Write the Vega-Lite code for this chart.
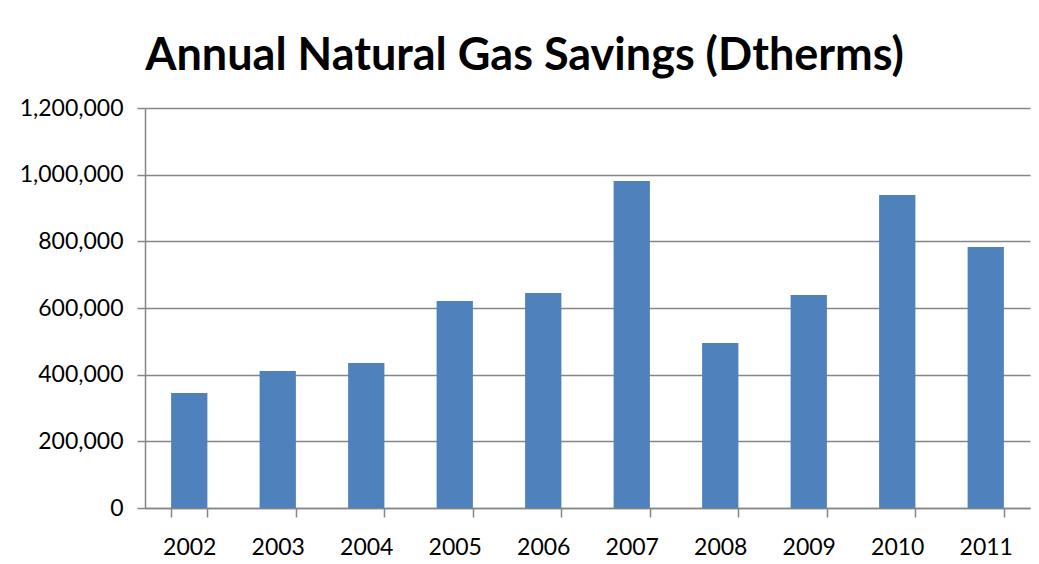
{
  "$schema": "https://vega.github.io/schema/vega-lite/v6.json",
  "width": 885,
  "height": 400,
  "autosize": {"type": "none"},
  "padding": {"left": 145, "top": 108, "right": 9, "bottom": 56},
  "background": "white",
  "title": {
    "text": "Annual Natural Gas Savings (Dtherms)",
    "font": "Lato",
    "fontSize": 45,
    "fontWeight": "bold",
    "color": "black",
    "anchor": "middle",
    "frame": "bounds",
    "offset": 18
  },
  "data": {
    "values": [
      {"year": "2002", "savings": 345000},
      {"year": "2003", "savings": 411000},
      {"year": "2004", "savings": 435000},
      {"year": "2005", "savings": 621000},
      {"year": "2006", "savings": 645000},
      {"year": "2007", "savings": 981000},
      {"year": "2008", "savings": 495000},
      {"year": "2009", "savings": 639000},
      {"year": "2010", "savings": 939000},
      {"year": "2011", "savings": 783000}
    ]
  },
  "mark": {"type": "bar", "color": "#4F81BD"},
  "encoding": {
    "x": {
      "field": "year",
      "type": "nominal",
      "title": null,
      "scale": {"paddingInner": 0.59, "paddingOuter": 0.295},
      "axis": {
        "labelAngle": 0,
        "labelFont": "Lato",
        "labelFontSize": 23,
        "labelColor": "black",
        "labelPadding": 19,
        "tickBand": "extent",
        "tickSize": 9,
        "tickColor": "#868686",
        "tickWidth": 1.5,
        "domainColor": "#868686",
        "domainWidth": 1.5
      }
    },
    "y": {
      "field": "savings",
      "type": "quantitative",
      "title": null,
      "scale": {"domain": [0, 1200000]},
      "axis": {
        "values": [0, 200000, 400000, 600000, 800000, 1000000, 1200000],
        "format": ",.0f",
        "labelFont": "Lato",
        "labelFontSize": 23,
        "labelColor": "black",
        "labelPadding": 14,
        "tickSize": 8,
        "tickColor": "#868686",
        "tickWidth": 1.5,
        "grid": true,
        "gridColor": "#868686",
        "gridWidth": 1.5,
        "domainColor": "#868686",
        "domainWidth": 1.5
      }
    }
  },
  "config": {"view": {"stroke": null}}
}
